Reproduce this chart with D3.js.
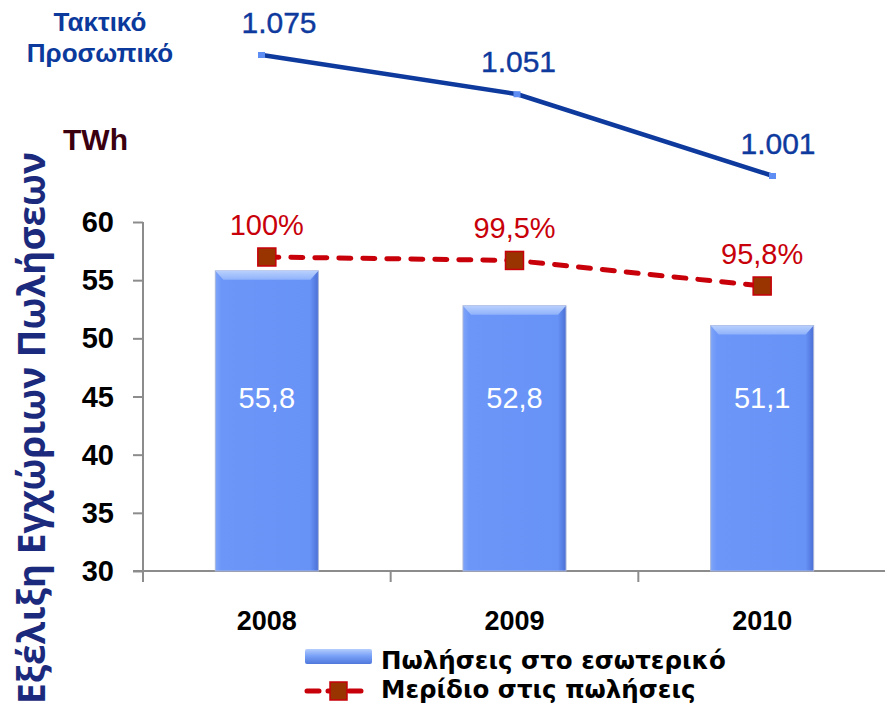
<!DOCTYPE html>
<html>
<head>
<meta charset="utf-8">
<script src="https://cdn.jsdelivr.net/npm/d3@7"></script>
<style>
  body { margin: 0; background: #fff; }
  svg { display: block; }
</style>
</head>
<body>
<svg id="chart" width="885" height="714"></svg>
<script>
// δεδομένα
const years = ["2008", "2009", "2010"];
const sales = [55.8, 52.8, 51.1];
const salesLabels = ["55,8", "52,8", "51,1"];
const share = [100, 99.5, 95.8];
const shareLabels = ["100%", "99,5%", "95,8%"];
const staff = [1075, 1051, 1001];
const staffLabels = ["1.075", "1.051", "1.001"];
const yTicks = [30, 35, 40, 45, 50, 55, 60];

const svg = d3.select("#chart");
const axisColor = "#8c8c8c";
const font = "'Liberation Sans', Arial, sans-serif";

// κλίμακες
const x = d3.scaleBand().domain(years).range([143, 886]).paddingInner(0.584).paddingOuter(0.292);
const y = d3.scaleLinear().domain([30, 60]).range([571, 222]);
const yShare = d3.scaleLinear().domain([95.8, 100]).range([286, 257]);
const xStaff = d3.scalePoint().domain(years).range([262, 773]);
const yStaff = d3.scaleLinear().domain([1001, 1075]).range([176, 55]);

// gradients
const defs = svg.append("defs");
const gBar = defs.append("linearGradient").attr("id", "barGrad").attr("x1", 0).attr("x2", 1).attr("y1", 0).attr("y2", 0);
gBar.append("stop").attr("offset", 0).attr("stop-color", "#7ea5fa");
gBar.append("stop").attr("offset", 0.06).attr("stop-color", "#6c96f8");
gBar.append("stop").attr("offset", 0.92).attr("stop-color", "#6893f6");
gBar.append("stop").attr("offset", 1).attr("stop-color", "#4b6fd6");
const gTop = defs.append("linearGradient").attr("id", "topGrad").attr("x1", 0).attr("x2", 0).attr("y1", 0).attr("y2", 1);
gTop.append("stop").attr("offset", 0).attr("stop-color", "#b9d0fd");
gTop.append("stop").attr("offset", 1).attr("stop-color", "#8fb2fb");
const gLeg = defs.append("linearGradient").attr("id", "legGrad").attr("x1", 0).attr("x2", 0).attr("y1", 0).attr("y2", 1);
gLeg.append("stop").attr("offset", 0).attr("stop-color", "#b4cdfc");
gLeg.append("stop").attr("offset", 0.45).attr("stop-color", "#7aa2f8");
gLeg.append("stop").attr("offset", 1).attr("stop-color", "#4f78dc");

// τίτλος κάθετος
svg.append("text")
  .attr("transform", "translate(45,428) rotate(-90)")
  .attr("text-anchor", "middle")
  .attr("font-family", "'Open Sans', sans-serif")
  .attr("font-weight", "bold")
  .attr("font-size", 37)
  .attr("fill", "#1b2a7c")
  .text("Εξέλιξη Εγχώριων Πωλήσεων");

// Τακτικό Προσωπικό
const staffTitle = svg.append("text")
  .attr("text-anchor", "middle")
  .attr("font-family", font)
  .attr("font-weight", "bold")
  .attr("font-size", 26)
  .attr("fill", "#0b3a9c");
staffTitle.append("tspan").attr("x", 100).attr("y", 31).text("Τακτικό");
staffTitle.append("tspan").attr("x", 100).attr("y", 62).text("Προσωπικό");

svg.append("text")
  .attr("x", 63).attr("y", 150)
  .attr("font-family", font)
  .attr("font-weight", "bold")
  .attr("font-size", 30)
  .attr("fill", "#3a0010")
  .text("TWh");

// γραμμή προσωπικού
const staffPts = years.map((d, i) => [xStaff(d), yStaff(staff[i])]);
svg.append("path")
  .attr("d", d3.line()(staffPts))
  .attr("fill", "none")
  .attr("stroke", "#0e3a9e")
  .attr("stroke-width", 4.5);
svg.selectAll(".staffPt").data(staffPts).enter().append("rect")
  .attr("x", d => d[0] - 4).attr("y", d => d[1] - 3)
  .attr("width", 7).attr("height", 6)
  .attr("fill", "#5e8ef4");
svg.selectAll(".staffLbl").data(staffPts).enter().append("text")
  .attr("x", (d, i) => d[0] + [17, 1, 5][i])
  .attr("y", d => d[1] - 22)
  .attr("text-anchor", "middle")
  .attr("font-family", font)
  .attr("font-size", 30)
  .attr("fill", "#0e3a9e")
  .attr("stroke", "#0e3a9e").attr("stroke-width", 0.4)
  .text((d, i) => staffLabels[i]);

// άξονες
const yAxis = svg.append("g").attr("transform", "translate(143,0)")
  .call(d3.axisLeft(y).tickValues(yTicks).tickSize(10).tickPadding(0).tickFormat(""));
yAxis.select(".domain").attr("d", "M0,222V582");
const xAxis = svg.append("g").attr("transform", "translate(0,571)")
  .call(d3.axisBottom(x).tickSize(0).tickFormat(""));
xAxis.select(".domain").attr("d", "M133,0H886");
[yAxis, xAxis].forEach(a => {
  a.selectAll("path, line").attr("stroke", axisColor).attr("stroke-width", 2);
});
// x ticks στα όρια των κατηγοριών
const bounds = years.map(d => x(d) - x.step() * x.paddingInner() / 2);
svg.selectAll(".xb").data(bounds.slice(1)).enter().append("line")
  .attr("x1", d => d).attr("x2", d => d)
  .attr("y1", 571).attr("y2", 582)
  .attr("stroke", axisColor).attr("stroke-width", 2);

svg.selectAll(".ylbl").data(yTicks).enter().append("text")
  .attr("x", 114).attr("y", d => y(d) + 10)
  .attr("text-anchor", "end")
  .attr("font-family", font)
  .attr("font-weight", "bold")
  .attr("font-size", 29)
  .text(d => d);

svg.selectAll(".xlbl").data(years).enter().append("text")
  .attr("x", d => x(d) + x.bandwidth() / 2).attr("y", 630)
  .attr("text-anchor", "middle")
  .attr("font-family", font)
  .attr("font-weight", "bold")
  .attr("font-size", 27)
  .text(d => d);

// μπάρες
const bw = x.bandwidth();
const bars = svg.selectAll(".bar").data(years).enter().append("g");
bars.append("rect")
  .attr("x", d => x(d)).attr("y", (d, i) => y(sales[i]))
  .attr("width", bw).attr("height", (d, i) => y(30) - y(sales[i]))
  .attr("fill", "url(#barGrad)")
  .attr("stroke", "#aab6d8").attr("stroke-width", 1);
bars.append("path")
  .attr("d", (d, i) => {
    const x0 = x(d), y0 = y(sales[i]);
    return `M${x0},${y0}H${x0 + bw}L${x0 + bw - 8},${y0 + 9}H${x0 + 8}Z`;
  })
  .attr("fill", "url(#topGrad)");
bars.append("text")
  .attr("x", d => x(d) + bw / 2).attr("y", y(44))
  .attr("text-anchor", "middle")
  .attr("font-family", font)
  .attr("font-size", 29)
  .attr("fill", "#fff")
  .text((d, i) => salesLabels[i]);

// μερίδιο
const sharePts = years.map((d, i) => [x(d) + bw / 2, yShare(share[i])]);
svg.append("path")
  .attr("d", d3.line()(sharePts))
  .attr("fill", "none")
  .attr("stroke", "#c8000a")
  .attr("stroke-width", 5)
  .attr("stroke-linecap", "round")
  .attr("stroke-dasharray", "12,12");
svg.selectAll(".sharePt").data(sharePts).enter().append("rect")
  .attr("x", d => d[0] - 9).attr("y", d => d[1] - 9)
  .attr("width", 18).attr("height", 18)
  .attr("fill", "#993300")
  .attr("stroke", "#c8000a").attr("stroke-width", 1.5);
svg.selectAll(".shareLbl").data(sharePts).enter().append("text")
  .attr("x", d => d[0]).attr("y", d => d[1] - 22)
  .attr("text-anchor", "middle")
  .attr("font-family", font)
  .attr("font-size", 29)
  .attr("fill", "#c8000a")
  .text((d, i) => shareLabels[i]);

// υπόμνημα
const legFont = "'DejaVu Sans', sans-serif";
svg.append("rect")
  .attr("x", 305).attr("y", 649).attr("width", 67).attr("height", 15).attr("rx", 2)
  .attr("fill", "url(#legGrad)");
svg.append("text")
  .attr("x", 381).attr("y", 669)
  .attr("font-family", legFont).attr("font-weight", "bold").attr("font-size", 24.5)
  .text("Πωλήσεις στο εσωτερικό");
svg.append("line")
  .attr("x1", 307).attr("x2", 370).attr("y1", 691).attr("y2", 691)
  .attr("stroke", "#c8000a").attr("stroke-width", 5)
  .attr("stroke-linecap", "round").attr("stroke-dasharray", "12,9");
svg.append("rect")
  .attr("x", 330).attr("y", 682).attr("width", 17).attr("height", 18)
  .attr("fill", "#993300").attr("stroke", "#c8000a").attr("stroke-width", 1.5);
svg.append("text")
  .attr("x", 381).attr("y", 698)
  .attr("font-family", legFont).attr("font-weight", "bold").attr("font-size", 24.5)
  .text("Μερίδιο στις πωλήσεις");
</script>
</body>
</html>
